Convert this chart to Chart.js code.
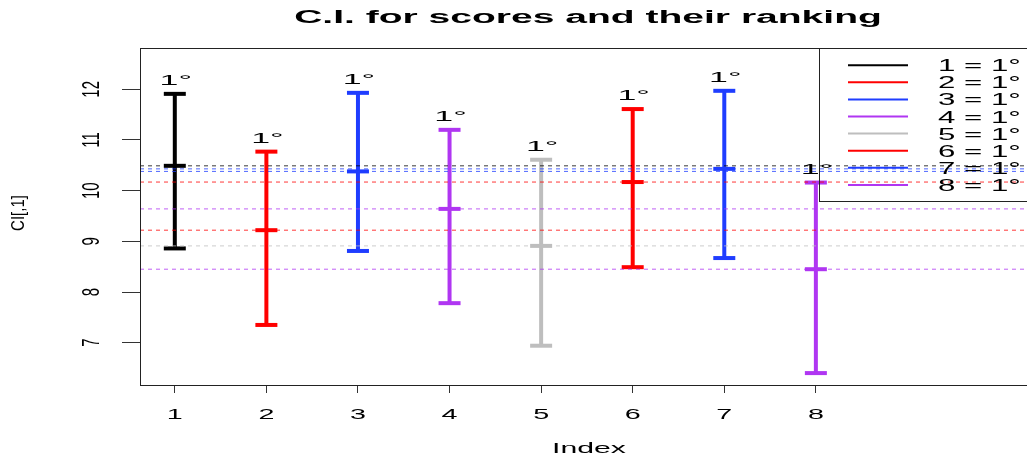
<!DOCTYPE html>
<html>
<head>
<meta charset="utf-8">
<script src="https://cdn.jsdelivr.net/npm/chart.js@4.4.0/dist/chart.umd.min.js"></script>
<style>
  html, body { margin: 0; padding: 0; background: #ffffff; overflow: hidden; }
  #wrap { width: 1027px; height: 459px; overflow: hidden; position: relative; }
  canvas { display: block; width: 1040px; height: 459px; }
</style>
</head>
<body>
<div id="wrap"><canvas id="ci" width="1040" height="459"></canvas></div>
<script>
// Confidence intervals of the scores (lower bound, score, upper bound) per index
const indexes = [1, 2, 3, 4, 5, 6, 7, 8];
const lower  = [8.86, 7.35, 8.81, 7.78, 6.94, 8.49, 8.67, 6.40];
const center = [10.49, 9.22, 10.38, 9.64, 8.91, 10.17, 10.43, 8.45];
const upper  = [11.91, 10.77, 11.93, 11.20, 10.61, 11.61, 11.97, 10.16];
const rankLabels = ['1°', '1°', '1°', '1°', '1°', '1°', '1°', '1°'];
const legendLabels = ['1 = 1°', '2 = 1°', '3 = 1°', '4 = 1°', '5 = 1°', '6 = 1°', '7 = 1°', '8 = 1°'];
const barColors = ['#000000', '#ff0000', '#1f3dff', '#b036f2', '#bebebe', '#ff0000', '#1f3dff', '#b036f2'];
const xTicks = [1, 2, 3, 4, 5, 6, 7, 8];
const yTicks = [7, 8, 9, 10, 11, 12];
const xRange = [0.62, 10.36];
const yRange = [6.165, 12.815];
const titleText = 'C.I. for scores and their ranking';
const xTitle = 'Index';
const yTitle = 'CI[,1]';

const FONT = '"Liberation Sans", Arial, Helvetica, sans-serif';

// Text drawn wide, with an optional rotation before the horizontal stretch
function wideText(ctx, text, x, y, o) {
  const size = o.size || 14, sx = o.sx || 2.2;
  ctx.save();
  ctx.translate(x, y);
  ctx.scale(sx, 1);
  if (o.rotate) ctx.rotate(o.rotate);
  ctx.font = (o.weight || 'normal') + ' ' + size + 'px ' + FONT;
  ctx.fillStyle = o.color || '#000000';
  ctx.textAlign = o.align || 'center';
  ctx.textBaseline = o.baseline || 'alphabetic';
  ctx.fillText(text, 0, 0);
  ctx.restore();
}

const datasets = [];
// Interval bars with caps at the bounds and at the score
indexes.forEach((ix, i) => {
  datasets.push({
    data: [{x: ix, y: lower[i]}, {x: ix, y: center[i]}, {x: ix, y: upper[i]}],
    showLine: true,
    borderColor: barColors[i],
    borderWidth: 4,
    pointStyle: 'line',
    pointRadius: 11,
    pointBorderWidth: 4,
    pointBorderColor: barColors[i],
    pointBackgroundColor: barColors[i],
    order: 2
  });
});
// Dotted reference line at each score
indexes.forEach((ix, i) => {
  datasets.push({
    data: [{x: xRange[0], y: center[i]}, {x: xRange[1], y: center[i]}],
    showLine: true,
    borderColor: barColors[i] + 'c8',
    borderWidth: 1,
    borderDash: [4, 4],
    pointRadius: 0,
    order: 1
  });
});

const decorations = {
  id: 'decorations',
  afterDraw(chart) {
    const ctx = chart.ctx;
    const a = chart.chartArea;
    const xs = chart.scales.x, ys = chart.scales.y;

    // plot frame
    ctx.save();
    ctx.strokeStyle = '#222222';
    ctx.lineWidth = 1;
    ctx.strokeRect(Math.round(a.left) + 0.5, Math.round(a.top) + 0.5,
                   Math.round(a.right - a.left), Math.round(a.bottom - a.top));
    ctx.restore();

    // title
    wideText(ctx, titleText, 588, 23, {size: 17.5, weight: 'bold', sx: 2.23});

    // x tick labels and title
    xTicks.forEach(v => {
      wideText(ctx, String(v), xs.getPixelForValue(v), 419, {size: 14, sx: 2.05});
    });
    wideText(ctx, xTitle, 589, 452.5, {size: 14.4, sx: 2.1});

    // y tick labels and title (parallel to the axis)
    yTicks.forEach(v => {
      wideText(ctx, String(v), 92.5, ys.getPixelForValue(v), {size: 15, sx: 1.6, rotate: -Math.PI / 2, baseline: 'middle'});
    });
    wideText(ctx, yTitle, 19, 213, {size: 15, sx: 1.2, rotate: -Math.PI / 2, baseline: 'middle'});

    // rank labels above the upper bounds
    indexes.forEach((ix, i) => {
      wideText(ctx, rankLabels[i], xs.getPixelForValue(ix) + 1, ys.getPixelForValue(upper[i]) - 9, {size: 15.4, sx: 2.2});
    });

    // legend
    ctx.save();
    ctx.strokeStyle = '#222222';
    ctx.lineWidth = 1;
    ctx.strokeRect(819.5, Math.round(a.top) + 0.5, 400, 153);
    ctx.restore();
    legendLabels.forEach((lab, i) => {
      const y = 65.2 + i * 17.1;
      ctx.save();
      ctx.strokeStyle = barColors[i];
      ctx.lineWidth = 2;
      ctx.beginPath();
      ctx.moveTo(848, y);
      ctx.lineTo(908, y);
      ctx.stroke();
      ctx.restore();
      wideText(ctx, lab, 938, y + 6, {size: 16, sx: 1.95, align: 'left'});
    });
  }
};

new Chart(document.getElementById('ci'), {
  type: 'scatter',
  data: { datasets },
  options: {
    responsive: false,
    animation: false,
    events: [],
    layout: { autoPadding: false, padding: { left: 122, right: 8, top: 48, bottom: 66 } },
    plugins: { legend: { display: false }, tooltip: { enabled: false } },
    elements: { line: { tension: 0 } },
    scales: {
      x: {
        type: 'linear',
        min: xRange[0],
        max: xRange[1],
        afterBuildTicks: s => { s.ticks = xTicks.map(v => ({value: v})); },
        afterFit: s => { s.height = 8; },
        ticks: { display: false },
        border: { display: false },
        grid: { drawOnChartArea: false, drawTicks: true, tickLength: 8, color: '#333333', lineWidth: 1 }
      },
      y: {
        type: 'linear',
        min: yRange[0],
        max: yRange[1],
        afterBuildTicks: s => { s.ticks = yTicks.map(v => ({value: v})); },
        afterFit: s => { s.width = 18; },
        ticks: { display: false },
        border: { display: false },
        grid: { drawOnChartArea: false, drawTicks: true, tickLength: 18, color: '#333333', lineWidth: 1 }
      }
    }
  },
  plugins: [decorations]
});
</script>
</body>
</html>
